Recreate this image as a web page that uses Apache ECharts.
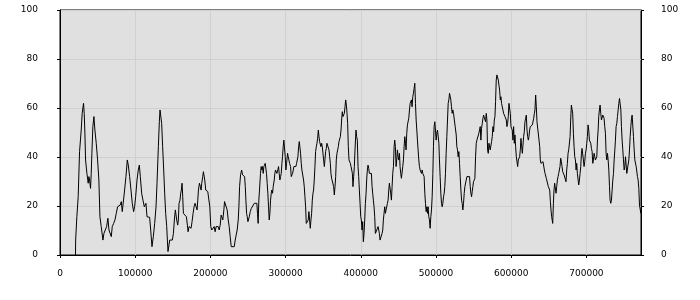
<!DOCTYPE html>
<html><head><meta charset="utf-8">
<script src="https://cdn.jsdelivr.net/npm/echarts@6/dist/echarts.min.js"></script>
<style>html,body{margin:0;padding:0;background:#fff}#c{width:700px;height:300px}</style>
</head><body><div id="c"></div>
<script>
const yTickValues = [0, 20, 40, 60, 80, 100];
const xTickStep = 100000;

const segA = [[20600,0],[20800,6.1],[22400,15.6],[24200,23.8],[26000,42.2],[28200,51.0],[29500,57.8],[31300,61.9],[32200,57.8],[33100,49.7],[34000,38.8],[35800,33.3],[37500,29.3],[38400,32.0],[39300,30.6],[40600,27.2],[41500,33.3],[42400,41.5],[43700,52.4],[45100,56.5],[46400,51.0],[48200,45.6],[50000,38.8],[51700,30.6],[53100,15.6],[54800,11.6],[57100,6.1],[58400,8.8],[60200,10.2],[62000,11.6],[63700,15.0],[65100,10.2],[66400,9.5],[68200,7.5],[69500,11.6],[71300,12.9],[73100,14.3],[74800,17.0],[76600,19.7],[78400,19.7],[80100,20.4],[81500,21.8],[82800,17.7],[84100,17.0],[85900,26.5],[87700,32.0],[89500,38.8],[90800,36.7],[92600,32.0],[94400,26.5],[96100,21.1],[97900,17.7],[99200,19.7],[100600,23.8],[102400,30.6],[104100,34.7],[105500,36.7],[106800,32.0],[108600,25.2],[110300,22.4],[112100,19.7],[113500,19.0],[114300,21.1],[115700,15.6],[117400,15.4],[119200,15.4],[120600,10.2],[122300,3.4],[124100,7.5],[125900,12.9],[127700,19.7],[129000,29.3],[130800,44.2],[132100,54.4]];

const segB = [[133000,59.2],[134300,59.2],[135200,53.7],[136500,44.2],[137900,34.7],[139200,25.2],[140500,17.0],[141900,11.6],[142800,6.1],[143600,1.4],[145000,0.7],[145900,6.1],[147600,6.1],[149400,6.1],[150800,8.8],[152100,14.3],[153400,18.4],[154300,19.0],[155200,14.3],[156500,12.2],[157400,14.3],[158300,21.1],[159600,22.4],[160500,25.2],[161400,26.5],[162300,29.3],[163200,23.8],[164100,17.0],[165400,17.0],[166700,17.0],[168100,15.6],[169400,12.2],[170300,9.5],[171600,11.6],[173000,10.9],[174300,10.9],[175600,13.6],[177000,17.0],[178300,19.7],[179600,21.1],[181000,19.7],[182300,18.4],[183200,22.4],[184100,26.5],[185400,29.3],[186700,27.9],[187600,26.5],[188500,29.3],[189800,32.0],[190700,34.0],[191600,34.0],[192500,30.6],[193800,26.5],[195100,26.5],[196500,25.9],[197800,25.9],[199200,19.7],[200500,11.6],[201800,10.2],[202700,10.9],[203600,9.5],[205000,11.6],[206300,9.5],[207600,11.6],[209000,12.2],[210300,11.6],[211700,10.2],[213000,12.2],[214300,16.3],[215600,17.0],[216500,14.3],[217900,18.4],[218800,21.8],[220100,21.8],[221400,21.1],[222300,18.4],[223700,14.3],[225000,11.6],[226300,7.5],[227700,3.4],[229000,3.4],[230300,3.4],[231700,3.4],[233000,6.1],[234300,8.2],[235600,10.2],[237000,14.3],[237900,19.7],[238800,27.9],[240100,32.7],[241500,34.7],[242800,32.7],[244100,32.7],[245500,32.0],[246400,27.9],[247200,22.4],[248100,17.0],[249000,15.6],[249900,13.6],[250800,14.3],[251700,15.6],[253000,17.7],[254400,19.0],[255700,19.7],[257000,19.0],[258400,21.1],[259700,21.8]];

const segC = [[261800,21.1],[262600,17.0],[263500,12.9],[264400,22.4],[265300,26.5],[266600,33.3],[267500,36.1],[268400,34.7],[269300,36.1],[270200,33.3],[271100,36.1],[272000,35.4],[272900,37.4],[273700,38.1],[274600,33.3],[275500,29.3],[276400,25.2],[277300,19.7],[278200,14.3],[279100,17.0],[280000,22.4],[280900,25.2],[281700,26.5],[282600,25.2],[283500,27.9],[284900,30.6],[285700,33.3],[286600,34.7],[287500,34.0],[288400,33.3],[289700,34.7],[290600,36.1],[291500,33.3],[292400,30.6],[293300,32.0],[294200,33.3],[295100,37.4],[295900,40.1],[296800,44.2],[297700,46.9],[298600,46.9],[299500,40.1],[300400,34.7],[301300,37.4],[302600,41.5],[303500,40.1],[304400,38.8],[305300,37.4],[306600,36.1],[307500,32.0],[308400,32.0],[309300,33.3],[310200,34.7],[311000,36.1],[311900,36.7],[312800,36.7],[313700,36.1],[314600,37.4],[315500,38.1],[316400,40.1],[317300,44.2],[318200,46.3],[319000,45.6],[319900,41.5],[320800,37.4],[321700,34.7],[323000,34.0],[323900,30.6],[324800,27.9],[325700,23.8],[326600,19.7],[327500,12.9],[328400,12.9],[329300,12.9],[330100,14.3],[331000,17.7],[331900,14.3],[332800,10.9],[333700,14.3],[334600,17.0],[335500,22.4],[336400,25.2],[337200,26.5],[338100,30.6],[339000,36.1],[339900,42.2],[340800,44.2],[341700,45.6],[342600,47.6],[343500,51.0],[344400,48.3],[345200,46.3],[346100,46.9],[347000,44.2],[347900,45.6],[348800,44.2],[349700,41.5],[350600,38.8],[351500,36.1],[352300,38.8],[353200,42.2],[354100,43.5],[355000,45.6],[355900,46.3],[356800,45.6],[357700,42.9],[358600,40.1],[359500,37.4],[360300,33.3],[361200,31.3],[362100,30.6],[363000,30.6],[363900,27.9],[364800,24.5],[365700,27.9],[366600,32.0],[367400,38.8],[368300,41.5],[369200,42.9],[370100,44.2],[371000,46.3],[371900,46.9],[372800,48.3],[373700,51.0],[374500,55.1],[375400,58.5],[376300,56.5],[377200,55.8],[378100,57.8],[379000,60.5],[379900,63.3],[380800,61.2],[381700,57.8],[382500,53.7],[383400,44.2],[384300,38.8],[385200,38.8],[386100,37.4],[387000,36.1],[387900,34.7],[388800,33.3],[389600,27.9],[390500,32.0],[391400,36.1],[392300,42.9]];

const segD = [[393600,51.0],[394500,48.3],[395400,46.9],[396300,36.1],[397200,32.0],[398100,26.5],[399000,21.1],[399900,15.6],[400700,14.3],[401600,10.2],[402500,13.6],[403400,5.4],[404300,8.8],[405200,14.3],[406100,21.1],[407000,25.2],[407800,30.6],[408700,34.7],[409600,36.7],[410500,35.4],[411400,33.3],[412300,34.0],[413200,32.7],[414100,33.3],[415000,27.9],[415800,25.2],[416700,22.4],[417600,19.7],[418500,15.6],[419400,8.8],[420300,8.2],[421200,8.8],[422100,8.8],[423000,11.6],[423800,12.2],[424700,8.8],[425600,6.1],[426500,6.1],[427400,6.1],[428300,8.8],[429200,10.2],[430000,14.3],[430900,17.0],[431800,19.7],[432700,17.0],[433600,18.4],[434500,17.7],[435400,21.1],[436300,22.4],[437200,26.5],[438000,29.3],[438900,29.9],[439800,25.2],[440700,22.4],[441600,27.9],[442500,33.3],[443400,36.1],[444300,44.2],[445100,46.9],[446000,44.2],[446900,36.1],[447800,38.8],[448700,42.9],[449600,40.1],[450500,38.8],[451400,41.5],[452200,36.1],[453100,33.3],[454000,31.3],[454900,30.6],[455800,36.1],[456700,38.8],[457600,44.2],[458500,48.3],[459400,45.6],[460200,42.9],[461100,49.7],[462000,53.1],[462900,53.7],[463800,55.8],[464700,59.2],[465600,61.9],[466500,61.9],[467300,63.3],[468200,60.5],[469100,64.6],[470000,66.0],[470900,68.0],[471800,70.1],[472700,61.9],[473600,55.1],[474500,51.0],[475300,46.9],[476200,42.9],[477100,38.8],[478000,36.1],[478900,34.7],[479800,34.0],[480700,33.3],[481600,34.7],[482400,33.3],[483300,34.0],[484200,32.0],[485100,25.2],[486000,21.1],[486900,17.7],[487800,19.7],[488700,17.0],[489500,19.7],[490400,15.6],[491300,14.3],[492200,10.9],[493100,15.6],[494000,18.4],[494900,23.8],[495800,33.3],[496600,44.2],[497500,52.4],[498400,54.4],[499300,51.0],[500200,46.9],[501100,49.7],[502000,51.0],[502900,50.3],[503800,45.6],[504600,38.8],[505500,32.0],[506400,25.2],[507300,21.1],[508200,19.7],[509100,21.1],[510000,23.8],[510900,25.2],[511700,27.9],[512600,33.3],[513500,41.5],[514400,48.3],[515300,55.1],[516200,61.9],[517100,63.3],[518000,66.0],[518800,65.3],[519700,63.3],[520600,60.5],[521500,57.8],[522400,59.2],[523300,57.8]];

const segE = [[524200,57.1],[525500,52.4],[526900,49.0],[527700,44.2],[528600,42.9],[529500,40.1],[530400,42.2],[531300,37.4],[532200,32.0],[533100,26.5],[534000,22.4],[534800,21.1],[535700,18.4],[536600,21.1],[537500,25.2],[538400,27.9],[539300,28.6],[540200,30.6],[541100,32.0],[541900,32.0],[542800,32.0],[543700,32.0],[544600,32.0],[545500,27.9],[546400,25.2],[547300,23.8],[548200,25.9],[549000,27.9],[549900,29.9],[550800,30.6],[551700,31.3],[552600,40.1],[553500,45.6],[554400,46.9],[555300,46.9],[556200,47.6],[557000,49.7],[557900,51.0],[558800,52.4],[559700,46.9],[560600,51.7],[561500,53.7],[562400,55.8],[563300,57.1],[564100,56.5],[565000,57.1],[565900,54.4],[566800,57.8],[567700,55.1],[568600,42.9],[569500,41.5],[570400,45.6],[571300,44.9],[572100,42.9],[573000,42.2],[573900,46.3],[574800,48.3],[575700,52.4],[576600,50.3],[577500,55.1],[578400,56.5],[579200,62.6],[580100,71.4],[581000,73.5],[581900,74.1],[582800,71.4],[583700,70.7],[584600,67.3],[585500,63.3],[586300,64.6],[587200,61.9],[588100,61.9],[589000,59.2],[589900,57.8],[590800,58.5],[591700,56.5],[592600,57.1],[593500,55.1],[594300,52.4],[595200,53.7],[596100,56.5],[597000,61.9],[597900,62.6],[598800,57.8],[599700,52.4],[600600,53.1],[601400,51.0],[602300,46.9],[603200,52.4],[604100,45.6],[605000,49.0],[605900,44.2],[606800,40.1],[607700,40.1],[608600,36.1],[609400,38.8],[610300,38.8],[611200,40.1],[612100,42.9],[613000,47.6],[613900,44.2],[614800,41.5],[615700,42.2],[616500,48.3],[617400,50.3],[618300,54.4],[619200,55.8],[620100,57.1],[621000,51.0],[621900,48.3],[622800,46.9],[623600,48.3],[624500,51.0],[625400,52.4],[626300,51.7],[627200,51.7],[628100,53.1],[629000,53.7],[629900,55.8],[630800,57.8],[631600,59.2],[632500,65.3],[633400,60.5],[634300,54.4],[635200,54.4],[636100,54.4],[637000,46.9],[637900,44.2],[638700,38.8],[639600,37.4],[640500,38.1],[641400,37.4],[642300,38.1],[643200,37.4],[644100,34.7],[645000,33.3],[645800,32.7],[646700,31.3],[647600,31.3],[648500,30.6],[649400,27.9],[650300,27.9],[651200,26.5],[652100,21.8],[652900,18.4],[653800,15.6]];

const segF = [[655200,12.9],[656100,21.1],[656900,26.5],[657800,29.3],[658700,29.9],[659600,25.2],[660500,27.9],[661400,30.6],[662300,32.0],[663200,33.3],[664000,33.3],[664900,36.1],[665800,39.5],[666700,38.1],[667600,36.1],[668500,34.0],[669400,33.3],[670300,32.7],[671200,33.3],[672000,32.7],[672900,29.9],[673800,34.7],[674700,37.4],[675600,41.5],[676500,42.9],[677400,42.9],[678300,48.3],[679100,55.1],[680000,61.2],[680900,60.5],[681800,57.8],[682700,49.7],[683600,44.2],[684500,40.1],[685400,38.8],[686300,34.7],[687100,37.4],[688000,33.3],[688900,33.3],[689800,28.6],[690700,30.6],[691600,33.3],[692500,36.1],[693400,41.5],[694200,43.5],[695100,42.9],[696000,38.8],[696900,36.1],[697800,38.1],[698700,41.5],[699600,42.9],[700500,45.6],[701300,48.3],[702200,53.1],[703100,51.0],[704000,46.9],[704900,46.9],[705800,45.6],[706700,43.5],[707600,42.2],[708500,37.4],[709300,38.8],[710200,41.5],[711100,40.1],[712000,38.8],[712900,38.8],[713800,40.1],[714700,46.9],[715600,51.0],[716400,56.5],[717300,59.2],[718200,61.2],[719100,57.8],[720000,55.1],[720900,55.8],[721800,57.1],[722700,56.5],[723500,55.8],[724400,52.4],[725300,49.7],[726200,41.5],[727100,38.8],[728000,41.5],[728900,38.8],[729800,34.7],[730700,27.9],[731500,22.4],[732400,21.1],[733300,22.4],[734200,26.5],[735100,30.6],[736000,33.3],[736900,38.8],[737800,42.9],[738600,46.9],[739500,52.4],[740400,53.7],[741300,56.5],[742200,59.2],[743100,61.9],[744000,63.9],[744900,63.3],[745800,59.2],[746600,52.4],[747500,46.9],[748400,42.9],[749300,38.8],[750200,34.7],[751100,36.1],[752000,40.1],[752900,40.8],[753700,33.3],[754600,32.7],[755500,33.3],[756400,38.8],[757300,42.9],[758200,48.3],[759100,52.4],[760000,55.8],[760800,57.1],[761700,56.5],[762600,48.3],[763500,42.9],[764400,38.8],[765300,39.5],[766200,36.1],[767100,35.4],[767900,32.0],[768800,30.6],[769700,27.2],[770600,20.4],[771500,19.7],[772400,17.0]];

const xMax = 772600;
const series = [].concat(segA, segB, segC, segD, segE, segF);

const labelStyle = { color: '#000', fontFamily: 'DejaVu Sans', fontSize: 9 };
const chart = echarts.init(document.getElementById('c'), null, { renderer: 'canvas' });
chart.setOption({
  animation: false,
  grid: { left: 60, right: 59, top: 10, bottom: 45, show: true, backgroundColor: '#e0e0e0', borderColor: '#000', borderWidth: 1 },
  xAxis: {
    type: 'value', min: 0, max: xMax, interval: xTickStep,
    axisLine: { show: true, lineStyle: { color: '#000', width: 1 } },
    axisTick: { show: true, length: 3, lineStyle: { color: '#000' } },
    axisLabel: Object.assign({ margin: 14, formatter: v => (v % xTickStep === 0 ? String(v) : '') , showMaxLabel: false}, labelStyle),
    splitLine: { show: true, lineStyle: { color: '#d0d0d0', width: 1 } }
  },
  yAxis: [
    {
      type: 'value', position: 'left', min: yTickValues[0], max: yTickValues[yTickValues.length - 1], interval: 20,
      axisLine: { show: true, lineStyle: { color: '#000' } },
      axisTick: { show: true, length: 3, lineStyle: { color: '#000' } },
      axisLabel: Object.assign({ margin: 22 }, labelStyle),
      splitLine: { show: true, lineStyle: { color: '#d0d0d0', width: 1 } }
    },
    {
      type: 'value', position: 'right', min: yTickValues[0], max: yTickValues[yTickValues.length - 1], interval: 20,
      axisLine: { show: true, lineStyle: { color: '#000' } },
      axisTick: { show: true, length: 3, lineStyle: { color: '#000' } },
      axisLabel: Object.assign({ margin: 20 }, labelStyle),
      splitLine: { show: false }
    }
  ],
  series: [{
    type: 'line', data: series, showSymbol: false, symbol: 'none', silent: true,
    lineStyle: { color: '#000', width: 1 }, itemStyle: { color: '#000' }
  }]
});
</script></body></html>
